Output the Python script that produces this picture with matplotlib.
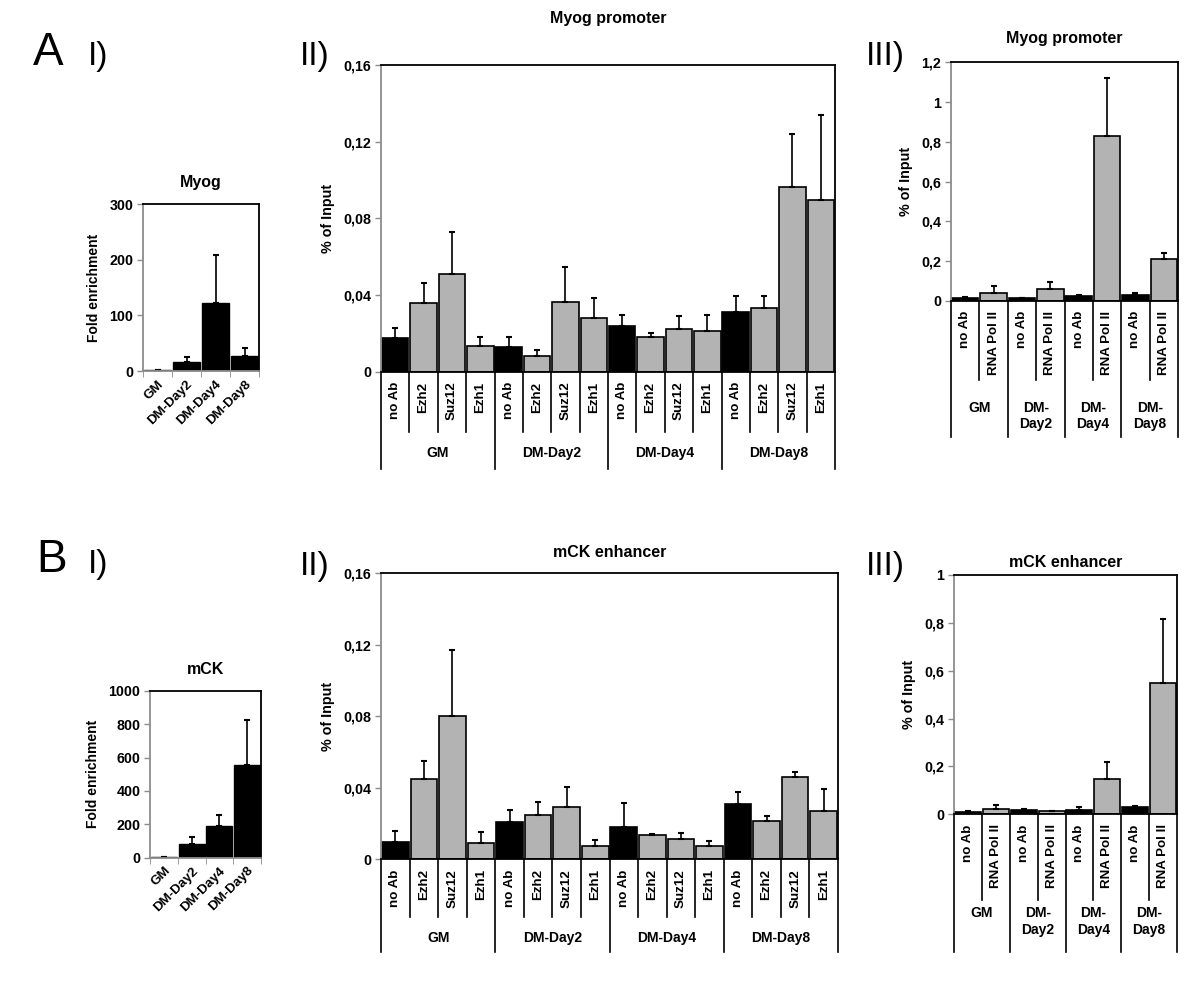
import matplotlib
matplotlib.use('Agg')
import matplotlib.pyplot as plt
from matplotlib.transforms import blended_transform_factory
import numpy as np

plt.rcParams['font.family'] = ['Liberation Sans', 'DejaVu Sans']
plt.rcParams['font.weight'] = 'bold'
plt.rcParams['axes.titleweight'] = 'bold'
plt.rcParams['axes.labelweight'] = 'bold'

# --- data ---
stages = ['GM', 'DM-Day2', 'DM-Day4', 'DM-Day8']
stages_2line = ['GM', 'DM-\nDay2', 'DM-\nDay4', 'DM-\nDay8']
prc_abs = ['no Ab', 'Ezh2', 'Suz12', 'Ezh1']
pol_abs = ['no Ab', 'RNA Pol II']

# I) fold enrichment of mRNA
myog_fold = [1, 16.7, 122.7, 27.5]
myog_fold_sd = [0, 9, 85, 13]
mck_fold = [5, 82, 190, 555]
mck_fold_sd = [0, 40, 67, 267]

# II) PRC2 ChIP, % of input; rows = stages, cols = antibodies
myog_prc = [[0.0174, 0.0357, 0.0510, 0.0132],
            [0.0130, 0.0080, 0.0362, 0.0278],
            [0.0238, 0.0179, 0.0221, 0.0212],
            [0.0310, 0.0332, 0.0963, 0.0896]]
myog_prc_sd = [[0.0052, 0.0107, 0.0220, 0.0047],
               [0.0053, 0.0033, 0.0182, 0.0105],
               [0.0058, 0.0021, 0.0069, 0.0084],
               [0.0087, 0.0061, 0.0277, 0.0443]]
mck_prc = [[0.0099, 0.0448, 0.0802, 0.0093],
           [0.0211, 0.0250, 0.0291, 0.0075],
           [0.0179, 0.0136, 0.0116, 0.0076],
           [0.0308, 0.0213, 0.0461, 0.0272]]
mck_prc_sd = [[0.0060, 0.0104, 0.0369, 0.0062],
              [0.0063, 0.0071, 0.0112, 0.0031],
              [0.0138, 0.0006, 0.0033, 0.0028],
              [0.0067, 0.0029, 0.0028, 0.0123]]

# III) RNA Pol II ChIP, % of input
myog_pol = [[0.015, 0.037], [0.012, 0.059], [0.022, 0.831], [0.030, 0.208]]
myog_pol_sd = [[0.005, 0.037], [0.004, 0.037], [0.005, 0.292], [0.007, 0.034]]
mck_pol = [[0.008, 0.021], [0.020, 0.013], [0.018, 0.148], [0.030, 0.550]]
mck_pol_sd = [[0.005, 0.018], [0.004, 0.001], [0.014, 0.071], [0.006, 0.268]]

W, H = 1200, 982
GRAY = '#b3b3b3'
AXGRAY = '#8c8c8c'
FS = 10.3


def box(x0, y0, x1, y1):
    """Axes rectangle from pixel corners (top-left origin)."""
    return [x0 / W, 1 - y1 / H, (x1 - x0) / W, (y1 - y0) / H]


def comma(v):
    return ('%g' % v).replace('.', ',')


def style_y(ax, top, step):
    ticks = np.arange(0, top + step / 2, step)
    ax.set_ylim(0, top)
    ax.set_yticks(ticks, [comma(round(t, 4)) for t in ticks])
    ax.tick_params(axis='y', direction='out', length=4, width=1, color=AXGRAY,
                   labelsize=FS, pad=3)
    ax.spines['left'].set_color(AXGRAY)
    for s in ['top', 'right', 'bottom']:
        ax.spines[s].set_color('black')
    for s in ax.spines.values():
        s.set_linewidth(1.3)


def fold_panel(ax, vals, sd, title, top, step):
    x = np.arange(len(vals))
    ax.bar(x, vals, width=0.93, color='black', edgecolor='black', linewidth=1.0)
    ax.errorbar(x, vals, yerr=[np.zeros(len(sd)), sd], fmt='none', ecolor='black',
                elinewidth=1.2, capsize=2.5, capthick=1.5)
    ax.set_xlim(-0.5, len(vals) - 0.5)
    style_y(ax, top, step)
    ax.spines['bottom'].set_color(AXGRAY)
    ax.set_xticks(x, stages, rotation=45, ha='right', rotation_mode='anchor', fontsize=9.6)
    ax.tick_params(axis='x', which='major', length=0, pad=5)
    ax.set_xticks(np.arange(len(vals) + 1) - 0.5, minor=True)
    ax.tick_params(axis='x', which='minor', length=4, color=AXGRAY)
    ax.set_ylabel('Fold enrichment', fontsize=10, labelpad=6)
    ax.set_title(title, fontsize=11.5, pad=12)


def chip_panel(ax, vals, sd, subs, groups, top, step, inner, outer, glab):
    vals = np.array(vals).ravel()
    sd = np.array(sd).ravel()
    n_sub = len(subs)
    x = np.arange(len(vals))
    colors = ['black' if i % n_sub == 0 else GRAY for i in x]
    ax.bar(x, vals, width=0.93, color=colors, edgecolor='black', linewidth=1.2)
    ax.errorbar(x, vals, yerr=[np.zeros(len(sd)), sd], fmt='none', ecolor='black',
                elinewidth=1.2, capsize=2.5, capthick=1.5)
    ax.set_xlim(-0.5, len(vals) - 0.5)
    ax.set_xticks([])
    style_y(ax, top, step)
    ax.set_ylabel('% of Input', fontsize=10.3, labelpad=6)

    # two-level category axis below the plot
    ax_h = ax.get_position().height * H
    tr = blended_transform_factory(ax.transData, ax.transAxes)
    for i in x:
        ax.text(i, -10 / ax_h, subs[i % n_sub], rotation=90, ha='center', va='top',
                transform=tr, fontsize=9.6)
    for k in range(len(vals) + 1):
        depth = outer if k % n_sub == 0 else inner
        ax.plot([k - 0.5, k - 0.5], [0, -depth / ax_h], color='black', lw=1.2,
                transform=tr, clip_on=False)
    for g, name in enumerate(groups):
        ax.text(g * n_sub + (n_sub - 1) / 2, -glab / ax_h, name, ha='center', va='top',
                transform=tr, fontsize=10, linespacing=1.25)


fig = plt.figure(figsize=(W / 100, H / 100), dpi=100)

axAI = fig.add_axes(box(143, 204, 259, 371))
fold_panel(axAI, myog_fold, myog_fold_sd, 'Myog', 300, 100)

axAII = fig.add_axes(box(381, 65, 835, 371.7))
chip_panel(axAII, myog_prc, myog_prc_sd, prc_abs, stages, 0.16, 0.04, 60, 97, 74)
axAII.set_title('Myog promoter', fontsize=11.5, pad=30)

axAIII = fig.add_axes(box(951, 62.3, 1178, 300.7))
chip_panel(axAIII, myog_pol, myog_pol_sd, pol_abs, stages_2line, 1.2, 0.2, 79, 136, 100)
axAIII.set_title('Myog promoter', fontsize=11.5, pad=14)

axBI = fig.add_axes(box(150, 690.7, 261, 857.7))
fold_panel(axBI, mck_fold, mck_fold_sd, 'mCK', 1000, 200)

axBII = fig.add_axes(box(381, 573.3, 838, 859.3))
chip_panel(axBII, mck_prc, mck_prc_sd, prc_abs, stages, 0.16, 0.04, 58, 93, 72)
axBII.set_title('mCK enhancer', fontsize=11.5, pad=12)

axBIII = fig.add_axes(box(954, 575, 1177, 814.3))
chip_panel(axBIII, mck_pol, mck_pol_sd, pol_abs, stages_2line, 1.0, 0.2, 86, 138, 92)
axBIII.set_title('mCK enhancer', fontsize=11.5, pad=6)


# panel letters
def label(x, y, s, size):
    fig.text(x / W, 1 - y / H, s, fontsize=size, fontweight='normal', va='baseline')


label(33, 65, 'A', 33)
label(88, 65, 'I)', 24)
label(300, 65, 'II)', 24)
label(866, 65, 'III)', 24)
label(36, 572, 'B', 33)
label(88, 573, 'I)', 24)
label(300, 575, 'II)', 24)
label(866, 575, 'III)', 24)

fig.savefig('out.png', dpi=100, facecolor='white')
